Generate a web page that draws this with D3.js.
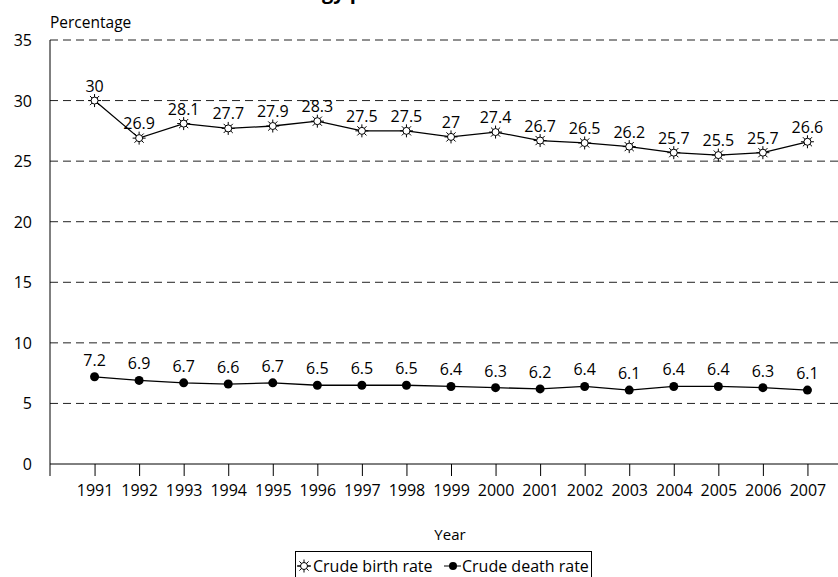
<!DOCTYPE html>
<html>
<head>
<meta charset="utf-8">
<script src="https://cdn.jsdelivr.net/npm/d3@7/dist/d3.min.js"></script>
<style>
  body { margin: 0; background: #fff; }
  svg { display: block; font-family: "Open Sans", Lato, sans-serif; }
</style>
</head>
<body>
<svg id="chart" width="838" height="577"></svg>
<script>
const years = [1991,1992,1993,1994,1995,1996,1997,1998,1999,2000,2001,2002,2003,2004,2005,2006,2007];
const birthRate = [30,26.9,28.1,27.7,27.9,28.3,27.5,27.5,27,27.4,26.7,26.5,26.2,25.7,25.5,25.7,26.6];
const deathRate = [7.2,6.9,6.7,6.6,6.7,6.5,6.5,6.5,6.4,6.3,6.2,6.4,6.1,6.4,6.4,6.3,6.1];
const yTicks = [0,5,10,15,20,25,30,35];
const seriesNames = ["Crude birth rate","Crude death rate"];

const svg = d3.select("#chart");
const padL = 50, padT = 40, padB = 464, padR = 852;
const fs = 16;

const x = d3.scalePoint().domain(years).range([padL, padR]).padding(1);
const y = d3.scaleLinear().domain([0,35]).range([padB, padT]);

// title, mostly above the top edge (only descenders show)
const title = svg.append("text").attr("y",-1)
  .attr("font-weight","bold").attr("font-size",20).attr("fill","#000")
  .text("Methodology parameters");
const off = title.node().getSubStringLength(0, 9);
title.attr("x", 322 - off);

// grid
svg.append("g").selectAll("line").data(yTicks.slice(1)).enter().append("line")
  .attr("x1",padL).attr("x2",838).attr("y1",d=>y(d)).attr("y2",d=>y(d))
  .attr("stroke","#222").attr("stroke-dasharray","8,5");

// y axis
svg.append("line").attr("x1",padL).attr("x2",padL).attr("y1",padT).attr("y2",padB).attr("stroke","#000");
svg.append("g").selectAll("text").data(yTicks).enter().append("text")
  .attr("x",32).attr("y",d=>y(d)+6).attr("text-anchor","end").attr("font-size",fs).text(d=>d);
svg.append("text").attr("x",50).attr("y",28).attr("font-size",15.5).text("Percentage");

// x axis
const xAxis = d3.axisBottom(x).tickSize(12).tickSizeOuter(0).tickPadding(5);
const gx = svg.append("g").attr("transform",`translate(0,${padB})`).call(xAxis);
gx.select(".domain").attr("stroke","#000").attr("d",`M${padL},0H838`);
gx.selectAll(".tick line").attr("stroke","#000");
gx.selectAll("text").attr("font-size",fs).attr("font-family","'Open Sans', Lato, sans-serif").attr("fill","#000").attr("dy","0.95em");
gx.append("line").attr("x1",padL).attr("x2",padL).attr("y1",0).attr("y2",12).attr("stroke","#000");
svg.append("text").attr("x",450).attr("y",540).attr("text-anchor","middle").attr("font-size",15).text("Year");

// sun marker path
function sun(r1, r2) {
  let p = d3.path();
  p.arc(0,0,r1,0,Math.PI*2); p.closePath();
  for (let i=0;i<8;i++){
    const a = i*Math.PI/4;
    p.moveTo(Math.cos(a)*r1, Math.sin(a)*r1);
    p.lineTo(Math.cos(a)*r2, Math.sin(a)*r2);
  }
  return p.toString();
}

const line = d3.line().x((d,i)=>x(years[i])).y(d=>y(d));

// birth
svg.append("path").datum(birthRate).attr("d",line).attr("fill","none").attr("stroke","#000").attr("stroke-width",1.3);
svg.append("g").selectAll("path").data(birthRate).enter().append("path")
  .attr("d",sun(3.5,6.5)).attr("transform",(d,i)=>`translate(${x(years[i])},${y(d)})`)
  .attr("fill","#fff").attr("stroke","#000").attr("stroke-width",1);
svg.append("g").selectAll("text").data(birthRate).enter().append("text")
  .attr("x",(d,i)=>x(years[i])).attr("y",d=>y(d)-9).attr("text-anchor","middle").attr("font-size",fs).text(d=>d);

// death
svg.append("path").datum(deathRate).attr("d",line).attr("fill","none").attr("stroke","#000").attr("stroke-width",1.3);
svg.append("g").selectAll("circle").data(deathRate).enter().append("circle")
  .attr("cx",(d,i)=>x(years[i])).attr("cy",d=>y(d)).attr("r",4.5).attr("fill","#000");
svg.append("g").selectAll("text").data(deathRate).enter().append("text")
  .attr("x",(d,i)=>x(years[i])).attr("y",d=>y(d)-11).attr("text-anchor","middle").attr("font-size",fs).text(d=>d);

// legend
const lg = svg.append("g");
lg.append("rect").attr("x",295.5).attr("y",551.5).attr("width",296).attr("height",30).attr("fill","#fff").attr("stroke","#000");
lg.append("line").attr("x1",297).attr("x2",311).attr("y1",566).attr("y2",566).attr("stroke","#000");
lg.append("path").attr("d",sun(3.5,6.5)).attr("transform","translate(304,566)").attr("fill","#fff").attr("stroke","#000");
lg.append("text").attr("x",313).attr("y",572).attr("font-size",fs).text(seriesNames[0]);
lg.append("line").attr("x1",444).attr("x2",461).attr("y1",566).attr("y2",566).attr("stroke","#000");
lg.append("circle").attr("cx",453).attr("cy",566).attr("r",4).attr("fill","#000");
lg.append("text").attr("x",462).attr("y",572).attr("font-size",fs).text(seriesNames[1]);
</script>
</body>
</html>
